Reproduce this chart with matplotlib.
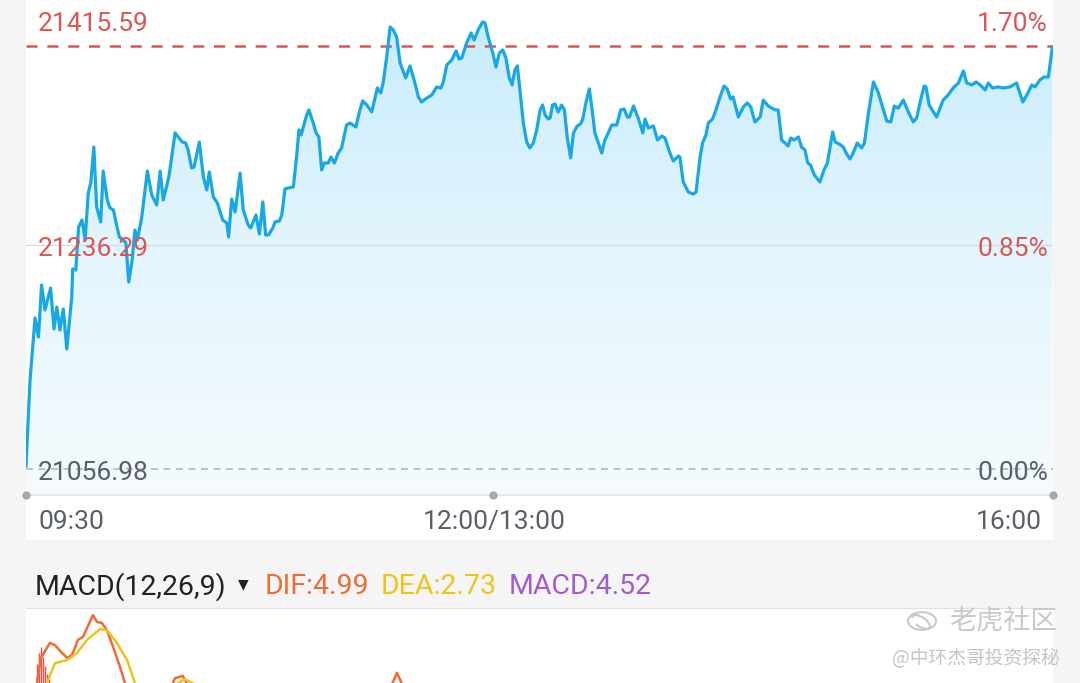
import numpy as np
import matplotlib.pyplot as plt
from matplotlib.patches import Rectangle, Circle, Arc
from matplotlib.colors import LinearSegmentedColormap

plt.rcParams['font.family'] = ['Roboto', 'DejaVu Sans']
plt.rcParams['lines.scale_dashes'] = False

# intraday index data (minutes since 09:30, lunch break removed)
prev_close = 21056.98
high_ref = 21415.59
mid_ref = 21236.29
pct_labels = ['1.70%', '0.85%', '0.00%']
time_ticks = [0, 150, 330]
time_labels = ['09:30', '12:00/13:00', '16:00']

minutes = [0, 1.3, 2.9, 4.0, 5.0, 6.1, 7.9, 9.0, 9.9, 10.9, 12.0, 13.1, 14.7, 15.0, 16.0, 16.9,
           18.0, 19.0, 20.0, 20.8, 21.8, 22.7, 24.0, 24.8, 26.1, 27.0, 28.1, 29.1, 30.0, 31.3,
           32.1, 33.0, 34.1, 35.0, 35.8, 37.2, 39.0, 40.4, 42.0, 43.1, 44.1, 45.9, 47.9, 48.9,
           50.2, 51.3, 52.1, 53.2, 54.0, 55.7, 57.0, 58.1, 58.9, 60.2, 61.5, 63.2, 64.5, 65.1,
           66.1, 67.2, 68.8, 69.8, 71.4, 72.2, 73.9, 75.0, 76.1, 77.0, 77.9, 79.3, 80.0, 81.4,
           82.2, 83.2, 84.3, 85.9, 87.0, 87.7, 88.4, 90.2, 90.9, 92.3, 93.2, 94.1, 95.0, 95.8,
           97.1, 98.0, 99.1, 100.3, 101.4, 103.0, 104.1, 106.0, 107.3, 108.2, 109.5, 111.1,
           112.9, 114.0, 114.8, 115.9, 117.0, 118.0, 119.1, 120.2, 122.0, 123.4, 124.7, 126.1,
           127.1, 128.8, 130.4, 132.0, 133.3, 134.1, 135.2, 136.8, 138.2, 139.2, 140.0, 141.6,
           143.0, 144.0, 145.3, 146.7, 147.5, 148.5, 150.0, 151.0, 152.1, 153.2, 154.2, 155.3,
           156.2, 157.1, 157.9, 158.7, 159.8, 160.9, 161.9, 163.0, 164.1, 165.2, 166.0, 166.8,
           167.8, 168.4, 169.2, 170.0, 171.0, 172.1, 173.0, 173.9, 175.0, 175.9, 177.1, 178.2,
           178.9, 179.9, 181.0, 181.8, 182.8, 183.9, 185.0, 186.0, 187.1, 188.2, 189.8, 191.1,
           192.2, 193.2, 193.9, 195.2, 196.7, 198.2, 198.9, 200.0, 201.6, 202.9, 204.3, 205.3,
           206.9, 208.0, 209.6, 210.1, 211.2, 212.8, 214.4, 215.3, 216.6, 217.4, 218.5, 219.2,
           220.6, 221.7, 223.0, 224.3, 225.3, 226.4, 227.2, 228.9, 230.5, 231.8, 232.9, 234.2,
           235.9, 236.9, 238.5, 240.7, 241.7, 242.8, 243.9, 244.9, 245.7, 246.8, 248.2, 249.2,
           250.3, 251.2, 252.1, 253.3, 255.1, 256.4, 257.5, 259.2, 260.0, 261.3, 262.6, 263.7,
           264.8, 265.8, 267.1, 268.5, 269.4, 270.7, 272.3, 273.9, 275.5, 276.6, 277.9, 279.0,
           280.3, 281.9, 283.5, 285.1, 286.2, 287.3, 288.6, 289.2, 290.2, 292.6, 294.7, 296.3,
           297.9, 299.6, 301.2, 302.3, 303.9, 305.3, 306.6, 308.2, 309.2, 310.6, 312.4, 314.0,
           316.2, 318.3, 320.3, 321.6, 323.2, 324.2, 325.8, 327.1, 328.5, 329.8]
prices = [21059.5, 21132.4, 21185.0, 21168.9, 21213.0, 21191.8, 21210.4, 21175.7, 21194.3,
          21174.8, 21192.6, 21158.7, 21202.8, 21226.6, 21225.7, 21262.2, 21268.1, 21251.1,
          21291.0, 21299.5, 21330.0, 21279.1, 21266.4, 21309.6, 21285.1, 21278.3, 21276.6,
          21263.9, 21253.7, 21251.1, 21248.6, 21215.5, 21234.2, 21259.6, 21251.1, 21270.6,
          21309.6, 21289.3, 21280.8, 21309.6, 21285.1, 21304.6, 21341.9, 21338.5, 21334.2,
          21333.4, 21327.4, 21312.2, 21313.0, 21334.2, 21304.6, 21293.5, 21308.8, 21287.6,
          21282.5, 21268.1, 21265.6, 21253.7, 21285.9, 21274.9, 21307.9, 21276.6, 21263.9,
          21261.3, 21272.3, 21256.2, 21283.4, 21255.4, 21255.4, 21261.3, 21266.4, 21267.3,
          21272.3, 21294.4, 21295.2, 21296.1, 21323.2, 21344.4, 21340.2, 21357.1, 21361.4,
          21350.3, 21341.9, 21338.5, 21310.5, 21316.4, 21316.4, 21321.5, 21316.4, 21324.9,
          21329.1, 21348.6, 21350.3, 21346.9, 21361.4, 21369.0, 21365.6, 21359.7, 21380.0,
          21375.8, 21385.1, 21406.3, 21431.7, 21429.2, 21423.2, 21401.2, 21388.5, 21398.7,
          21386.8, 21372.4, 21368.1, 21371.5, 21374.1, 21380.9, 21380.0, 21385.1, 21399.5,
          21403.7, 21411.4, 21404.6, 21405.4, 21418.2, 21426.6, 21420.7, 21429.2, 21436.0,
          21435.1, 21423.2, 21409.7, 21397.8, 21409.7, 21412.2, 21405.4, 21388.5, 21382.6,
          21395.3, 21398.7, 21378.3, 21350.3, 21334.2, 21329.1, 21333.4, 21344.4, 21361.4,
          21365.6, 21357.1, 21353.7, 21354.6, 21365.6, 21366.4, 21359.7, 21365.6, 21361.4,
          21338.5, 21320.7, 21341.9, 21347.8, 21349.5, 21353.7, 21367.3, 21379.2, 21363.9,
          21341.9, 21333.4, 21324.9, 21335.9, 21341.9, 21348.6, 21348.6, 21361.4, 21362.2,
          21355.4, 21355.4, 21364.7, 21354.6, 21341.9, 21353.7, 21346.1, 21347.8, 21335.9,
          21339.3, 21337.6, 21324.9, 21318.1, 21322.4, 21321.5, 21300.3, 21291.8, 21290.1,
          21291.8, 21321.5, 21333.4, 21340.2, 21350.3, 21353.7, 21361.4, 21372.4, 21381.7,
          21379.2, 21370.7, 21372.4, 21355.4, 21363.9, 21367.3, 21363.9, 21351.2, 21355.4,
          21369.8, 21364.7, 21361.4, 21361.4, 21335.9, 21333.4, 21330.8, 21337.6, 21335.9,
          21338.5, 21330.0, 21327.4, 21316.4, 21314.7, 21306.3, 21300.3, 21310.5, 21316.4,
          21342.7, 21334.2, 21332.5, 21330.0, 21324.1, 21319.8, 21324.9, 21333.4, 21329.1,
          21333.4, 21358.8, 21385.1, 21375.8, 21361.4, 21352.0, 21351.2, 21364.7, 21363.0,
          21369.8, 21359.7, 21351.2, 21354.6, 21368.1, 21381.7, 21380.9, 21365.6, 21355.4,
          21369.8, 21374.1, 21380.0, 21384.2, 21394.4, 21384.2, 21382.6, 21385.1, 21382.6,
          21378.3, 21384.2, 21380.0, 21380.9, 21380.0, 21380.9, 21384.2, 21368.1, 21374.1,
          21382.6, 21380.9, 21386.8, 21389.3, 21389.3, 21414.8]

# MACD panel (only the top of it is visible)
dif_min = [2.2, 3.5, 4.8, 7.7, 9.3, 11.6, 13.2, 14.8, 16.7, 18.3, 21.5, 22.8, 24.4, 26.0, 28.0,
           30.2, 31.8, 33.4, 44.7, 47.9, 50.4, 52.7, 55.0, 115.4, 119.2, 121.8, 124.0]
dif_val = [5.5, 10.0, 16.7, 20.7, 20.1, 18.0, 16.7, 17.5, 21.5, 22.3, 28.1, 26.3, 26.0, 24.1, 19.6,
           14.3, 10.0, 5.5, 5.5, 11.3, 11.9, 8.1, 5.5, 5.5, 12.7, 8.0, 5.5]
dea_min = [5.8, 6.7, 9.3, 13.2, 16.4, 19.6, 23.8, 26.0, 29.2, 32.5, 35.0, 36.6, 46.0, 48.8, 51.1,
           53.5, 56.0]
dea_val = [5.5, 10.0, 15.3, 16.1, 18.0, 21.5, 24.4, 24.1, 20.7, 16.1, 10.0, 5.5, 5.5, 10.0, 11.0,
           10.0, 5.5]
hist_min = [3.5, 4.2, 4.8, 5.5, 6.1, 6.8, 7.4]
hist_val = [15.0, 18.0, 19.5, 17.0, 14.5, 12.5, 11.0]

W, H = 1080, 683
fig = plt.figure(figsize=(W / 100, H / 100), dpi=100, facecolor='#f5f5f5')


def fx(px):
    return px / W


def fy(py):
    return 1 - py / H


# white background behind price chart and time labels
fig.patches.append(Rectangle((fx(26), fy(540)), 1027 / W, 540 / H, transform=fig.transFigure,
                             facecolor='white', edgecolor='none', zorder=-5))

ax = fig.add_axes([fx(26), fy(495), 1027 / W, 495 / H])
k = (high_ref - prev_close) / 423
ylo = prev_close - 26 * k
yhi = high_ref + 46 * k
ax.set_xlim(0, 330)
ax.set_ylim(ylo, yhi)
ax.axis('off')

# gradient fill under the line
grad = np.linspace(0, 1, 256).reshape(-1, 1)
cmap = LinearSegmentedColormap.from_list('fill', ['#f5fbfe', '#e3f5fd', '#c6ebfb'])
im = ax.imshow(grad, extent=[0, 330, ylo, yhi], origin='lower', aspect='auto', cmap=cmap, zorder=1)
poly = ax.fill_between(minutes, prices, ylo, color='none', lw=0)
im.set_clip_path(poly.get_paths()[0], transform=ax.transData)

ax.axhline(high_ref, color='#e05252', lw=1.8, ls=(0, (8, 7)), zorder=3)
ax.axhline(prev_close, color='#b3b7bd', lw=1.2, ls=(0, (5, 4)), zorder=3)
mid_line = prev_close + 224 * k
ax.axhline(mid_line, color='#d5dbe0', lw=0.9, zorder=2)
ax.plot(minutes, prices, color='#18a8e6', lw=2.3, zorder=4, solid_joinstyle='round')

# bottom axis line with dots
ax.axhline(ylo, color='#e2e2e2', lw=1.2, zorder=3, clip_on=False)
ax.plot(time_ticks, [ylo] * 3, 'o', color='#a9a9a9', ms=5, clip_on=False, zorder=5)

fs = 19
red = '#dd5656'
grey = '#5a5f68'
fig.text(fx(38), fy(24), f'{high_ref:.2f}', color=red, fontsize=fs, va='center', ha='left')
fig.text(fx(38), fy(249), f'{mid_ref:.2f}', color=red, fontsize=fs, va='center', ha='left', zorder=6)
fig.text(fx(38), fy(473), f'{prev_close:.2f}', color=grey, fontsize=fs, va='center', ha='left')
fig.text(fx(1048), fy(24), pct_labels[0], color=red, fontsize=fs, va='center', ha='right')
fig.text(fx(1048), fy(249), pct_labels[1], color=red, fontsize=fs, va='center', ha='right')
fig.text(fx(1048), fy(473), pct_labels[2], color=grey, fontsize=fs, va='center', ha='right')

fig.text(fx(38), fy(522), time_labels[0], color=grey, fontsize=fs, va='center', ha='left')
fig.text(fx(494), fy(522), time_labels[1], color=grey, fontsize=fs, va='center', ha='center')
fig.text(fx(1042), fy(522), time_labels[2], color=grey, fontsize=fs, va='center', ha='right')

# MACD header
fs2 = 20.5
fig.text(fx(35), fy(587), 'MACD(12,26,9)', color='#222222', fontsize=fs2, va='center', ha='left')
fig.text(fx(243), fy(584), '▼', color='#222222', fontsize=10, va='center', ha='center',
         family='DejaVu Sans')
fig.text(fx(265), fy(587), 'DIF:4.99', color='#f06b34', fontsize=fs2, va='center', ha='left')
fig.text(fx(381), fy(587), 'DEA:2.73', color='#efc417', fontsize=fs2, va='center', ha='left')
fig.text(fx(509), fy(587), 'MACD:4.52', color='#a35ad2', fontsize=fs2, va='center', ha='left')

# MACD panel
mx = fig.add_axes([fx(26), 0, 1027 / W, (H - 608) / H])
mx.set_facecolor('white')
mx.set_xlim(0, 330)
mx.set_ylim(10, 30)
for s in ['left', 'right', 'bottom']:
    mx.spines[s].set_visible(False)
mx.spines['top'].set_color('#e0e0e0')
mx.set_xticks([])
mx.set_yticks([])
mx.vlines(hist_min, 0, hist_val, color='#ec4b4b', lw=1.0)
mx.plot(dif_min, dif_val, color='#f06b34', lw=1.8)
mx.plot(dea_min, dea_val, color='#efc417', lw=1.8)

# watermark
wm = '#c9c9c9'
fig.patches.append(Circle((fx(922), fy(621)), 14 / W, transform=fig.transFigure, fill=False,
                          edgecolor=wm, lw=1.5, zorder=5))
fig.patches.append(Arc((fx(921), fy(622)), 12 / W, 16 / H, angle=35, theta1=180, theta2=470,
                       transform=fig.transFigure, edgecolor=wm, lw=1.5, zorder=5))
fig.text(fx(1058), fy(621), '老虎社区', color=wm, fontsize=19.5, ha='right', va='center',
         family=['Noto Sans CJK SC', 'DejaVu Sans'])
fig.text(fx(1060), fy(658), '@中环杰哥投资探秘', color='#c4c4c4', fontsize=13.5, ha='right',
         va='center', family=['Noto Sans CJK SC', 'DejaVu Sans'])

fig.savefig('out.png', dpi=100, facecolor=fig.get_facecolor())
